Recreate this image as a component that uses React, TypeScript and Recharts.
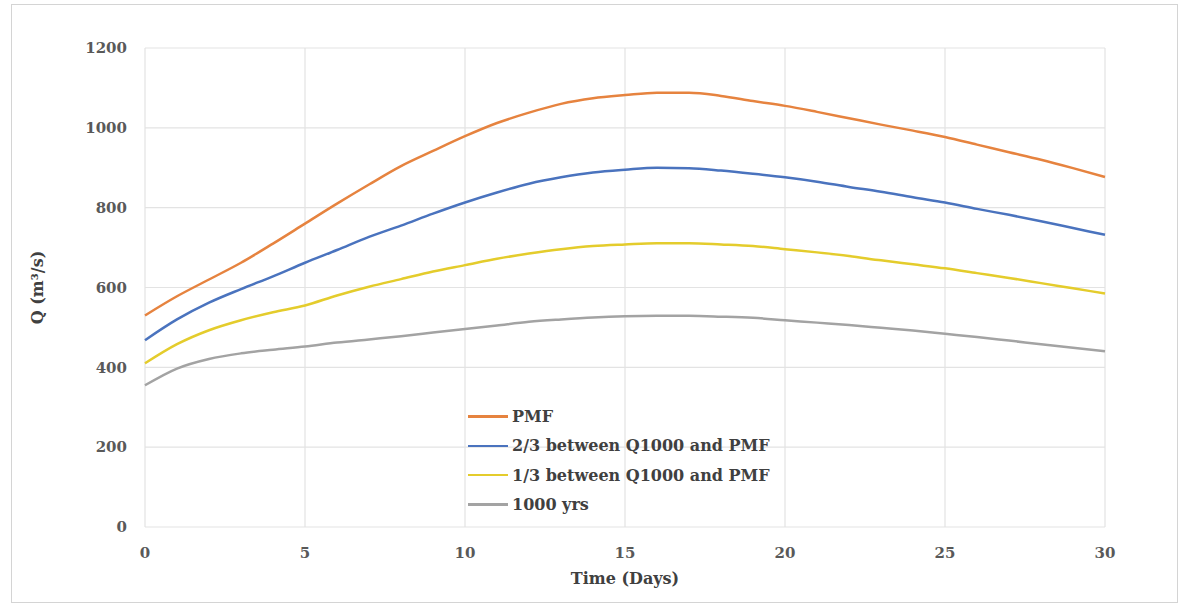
import React from 'react';
import { LineChart, Line, XAxis, YAxis, CartesianGrid } from 'recharts';

const days = [
  0, 1, 2, 3, 4, 5, 6, 7, 8, 9, 10, 11, 12, 13, 14, 15, 16, 17, 18, 19, 20, 21, 22, 23, 24, 25, 26,
  27, 28, 29, 30,
];
const pmf = [
  530, 578, 620, 662, 710, 760, 810, 858, 904, 942, 979, 1012, 1038, 1060, 1074, 1082, 1088, 1088,
  1080, 1067, 1055, 1040, 1024, 1008, 993, 977, 958, 939, 920, 899, 877,
];
const twoThirds = [
  468, 520, 562, 596, 628, 662, 694, 727, 755, 785, 813, 838, 860, 876, 888, 895, 900, 899, 893,
  885, 876, 865, 852, 840, 826, 813, 797, 782, 766, 749, 732,
];
const oneThird = [
  410, 458, 493, 518, 538, 555, 580, 602, 621, 640, 656, 672, 685, 696, 704, 708, 711, 711, 708,
  704, 696, 688, 679, 668, 658, 648, 636, 624, 611, 598, 585,
];
const yrs1000 = [
  355, 397, 421, 435, 444, 452, 462, 470, 478, 487, 496, 505, 514, 520, 525, 528, 529, 529, 527,
  524, 518, 512, 506, 499, 492, 484, 476, 467, 458, 449, 440,
];
const xTicks = [0, 5, 10, 15, 20, 25, 30];
const yTicks = [0, 200, 400, 600, 800, 1000, 1200];

const series = [
  { key: 'pmf', name: 'PMF', color: '#E6833F' },
  { key: 'twoThirds', name: '2/3 between Q1000 and PMF', color: '#4A73BE' },
  { key: 'oneThird', name: '1/3 between Q1000 and PMF', color: '#E4CC2C' },
  { key: 'yrs1000', name: '1000 yrs', color: '#A3A3A3' },
];

const data = days.map((d, i) => ({
  day: d,
  pmf: pmf[i],
  twoThirds: twoThirds[i],
  oneThird: oneThird[i],
  yrs1000: yrs1000[i],
}));

const font = '"DejaVu Serif", serif';

// legend kept outside the chart so it does not eat plot space
const LegendBox = () => (
  <div
    style={{
      position: 'absolute',
      left: 468,
      top: 402,
      fontFamily: font,
      fontWeight: 'bold',
      fontSize: 16,
      color: '#404040',
    }}
  >
    {series.map((s) => (
      <div key={s.key} style={{ display: 'flex', alignItems: 'center', height: 29.3 }}>
        <div style={{ width: 40, height: 2.5, background: s.color, marginRight: 4 }} />
        <span>{s.name}</span>
      </div>
    ))}
  </div>
);

const App = () => {
  const tickStyle = { fill: '#595959', fontFamily: font, fontWeight: 'bold', fontSize: 15 };
  const titleStyle = { fill: '#404040', fontFamily: font, fontWeight: 'bold', fontSize: 16 };
  return (
    <div style={{ position: 'fixed', left: 0, top: 0, width: 1184, height: 608, background: '#fff' }}>
      <div
        style={{
          position: 'absolute',
          left: 11,
          top: 4,
          width: 1167,
          height: 599,
          border: '1px solid #d4d4d4',
          boxSizing: 'border-box',
        }}
      />
      <LineChart
        width={1184}
        height={608}
        data={data}
        margin={{ top: 48, right: 79, left: 85, bottom: 51 }}
        style={{ position: 'absolute', left: 0, top: 0 }}
      >
        <CartesianGrid stroke='#e3e3e3' strokeWidth={1.2} />
        <XAxis
          dataKey='day'
          type='number'
          domain={[0, 30]}
          ticks={xTicks}
          axisLine={false}
          tickLine={false}
          tick={tickStyle}
          tickMargin={14}
          height={30}
          label={{ value: 'Time (Days)', position: 'bottom', offset: 16, style: titleStyle }}
        />
        <YAxis
          type='number'
          domain={[0, 1200]}
          ticks={yTicks}
          axisLine={false}
          tickLine={false}
          tick={tickStyle}
          tickMargin={12}
          width={60}
          label={{
            value: 'Q (m³/s)',
            angle: -90,
            position: 'left',
            offset: 48,
            style: { ...titleStyle, textAnchor: 'middle' },
          }}
        />
        {series.map((s) => (
          <Line
            key={s.key}
            type='monotone'
            dataKey={s.key}
            name={s.name}
            stroke={s.color}
            strokeWidth={2.5}
            dot={false}
            isAnimationActive={false}
          />
        ))}
      </LineChart>
      <LegendBox />
    </div>
  );
};

export default App;
